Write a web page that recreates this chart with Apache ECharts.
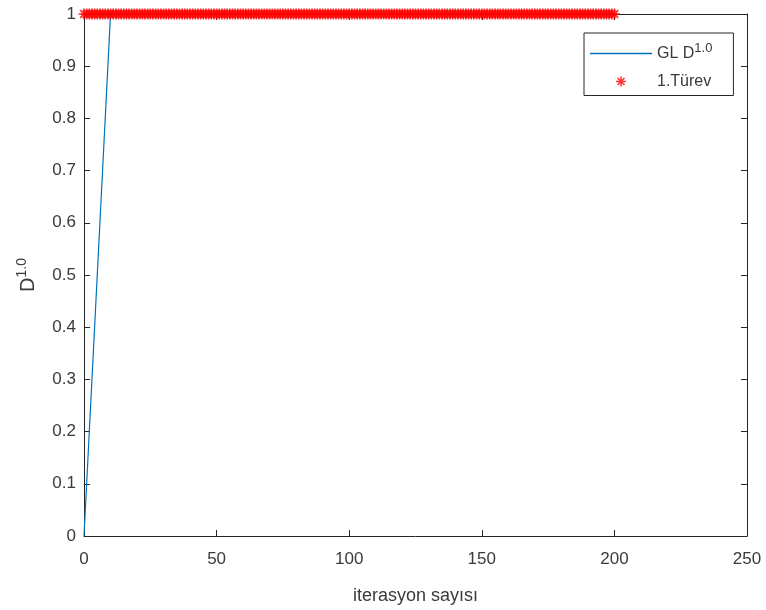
<!DOCTYPE html>
<html>
<head>
<meta charset="utf-8">
<script src="https://cdn.jsdelivr.net/npm/echarts@6/dist/echarts.min.js"></script>
<style>
  html, body { margin: 0; padding: 0; background: #fff; }
  #chart { width: 766px; height: 610px; }
</style>
</head>
<body>
<div id="chart"></div>
<script>
// Grünwald–Letnikov first-order derivative estimate per iteration
const glX = [0, 10, 200];
const glY = [0, 1, 1];

// Exact first derivative, one point per iteration 0..200
const turevY = [
  1,1,1,1,1,1,1,1,1,1,1,1,1,1,1,1,1,1,1,1,
  1,1,1,1,1,1,1,1,1,1,1,1,1,1,1,1,1,1,1,1,
  1,1,1,1,1,1,1,1,1,1,1,1,1,1,1,1,1,1,1,1,
  1,1,1,1,1,1,1,1,1,1,1,1,1,1,1,1,1,1,1,1,
  1,1,1,1,1,1,1,1,1,1,1,1,1,1,1,1,1,1,1,1,
  1,1,1,1,1,1,1,1,1,1,1,1,1,1,1,1,1,1,1,1,
  1,1,1,1,1,1,1,1,1,1,1,1,1,1,1,1,1,1,1,1,
  1,1,1,1,1,1,1,1,1,1,1,1,1,1,1,1,1,1,1,1,
  1,1,1,1,1,1,1,1,1,1,1,1,1,1,1,1,1,1,1,1,
  1,1,1,1,1,1,1,1,1,1,1,1,1,1,1,1,1,1,1,1,
  1
];

const xTicks = { min: 0, max: 250, interval: 50 };
const yTicks = { min: 0, max: 1, interval: 0.1 };

const axisColor = '#262626';
const labelColor = '#3a3a3a';
const lineColor = '#0072BD';
const starColor = '#ff0000';
const font = '"Liberation Sans", Arial, sans-serif';

// Asterisk marker: horizontal, vertical and two diagonal bars
const asterisk = 'path://M0 8.5L20 8.5L20 11.5L0 11.5Z M8.5 0L11.5 0L11.5 20L8.5 20Z ' +
  'M4.1 1.9L18.1 15.9L15.9 18.1L1.9 4.1Z M18.1 4.1L4.1 18.1L1.9 15.9L15.9 1.9Z';
// Plain line swatch for the legend
const lineIcon = 'path://M0 4.3L62 4.3L62 5.7L0 5.7Z';

const glData = glX.map((x, i) => [x, glY[i]]);
const turevData = turevY.map((y, i) => [i, y]);

const chart = echarts.init(document.getElementById('chart'), null, { renderer: 'canvas' });

const baseAxis = {
  axisLine: { show: true, onZero: false, lineStyle: { color: axisColor, width: 1 } },
  axisTick: { show: true, inside: true, length: 6, lineStyle: { color: axisColor } },
  splitLine: { show: false }
};

chart.setOption({
  animation: false,
  backgroundColor: '#ffffff',
  textStyle: { fontFamily: font },
  grid: { left: 84, right: 19, top: 14, bottom: 74, containLabel: false },
  xAxis: [
    Object.assign({}, baseAxis, {
      type: 'value', position: 'bottom', min: xTicks.min, max: xTicks.max, interval: xTicks.interval,
      axisLabel: { color: labelColor, fontSize: 17, margin: 15, fontFamily: font },
      name: 'iterasyon sayısı', nameLocation: 'middle', nameGap: 51,
      nameTextStyle: { color: labelColor, fontSize: 18, fontFamily: font }
    }),
    Object.assign({}, baseAxis, {
      type: 'value', position: 'top', min: xTicks.min, max: xTicks.max, interval: xTicks.interval,
      axisLabel: { show: false }
    })
  ],
  yAxis: [
    Object.assign({}, baseAxis, {
      type: 'value', position: 'left', min: yTicks.min, max: yTicks.max, interval: yTicks.interval,
      axisLabel: { color: labelColor, fontSize: 17, margin: 8, fontFamily: font },
      name: '{d|D}{s|1.0}', nameLocation: 'middle', nameGap: 43, nameRotate: 90,
      nameTextStyle: {
        color: labelColor, fontFamily: font,
        rich: {
          d: { fontSize: 20, color: labelColor, fontFamily: font },
          s: { fontSize: 14, color: labelColor, fontFamily: font, padding: [0, 0, 12, 0] }
        }
      }
    }),
    Object.assign({}, baseAxis, {
      type: 'value', position: 'right', min: yTicks.min, max: yTicks.max, interval: yTicks.interval,
      axisLabel: { show: false }
    })
  ],
  legend: {
    orient: 'vertical',
    left: 584, top: 33,
    backgroundColor: '#ffffff',
    borderColor: axisColor, borderWidth: 1, borderRadius: 0,
    padding: [9, 21, 6, 6],
    itemWidth: 62, itemHeight: 10, itemGap: 12,
    textStyle: {
      color: labelColor, fontSize: 16, fontFamily: font,
      rich: {
        n: { fontSize: 16, color: labelColor, fontFamily: font },
        s: { fontSize: 13, color: labelColor, fontFamily: font, padding: [0, 0, 10, 0] }
      }
    },
    formatter: function (name) {
      return name === 'GL' ? '{n|GL D}{s|1.0}' : '{n|' + name + '}';
    },
    data: [
      { name: 'GL', icon: lineIcon, itemStyle: { color: lineColor } },
      { name: '1.Türev', icon: asterisk, itemStyle: { color: starColor } }
    ]
  },
  series: [
    {
      name: 'GL', type: 'line', xAxisIndex: 0, yAxisIndex: 0,
      data: glData, showSymbol: false, symbol: 'none',
      lineStyle: { color: lineColor, width: 1.2 }, itemStyle: { color: lineColor },
      z: 2
    },
    {
      name: '1.Türev', type: 'scatter', xAxisIndex: 0, yAxisIndex: 0,
      data: turevData, symbol: asterisk, symbolSize: 11,
      itemStyle: { color: starColor },
      z: 3
    }
  ]
});
</script>
</body>
</html>
